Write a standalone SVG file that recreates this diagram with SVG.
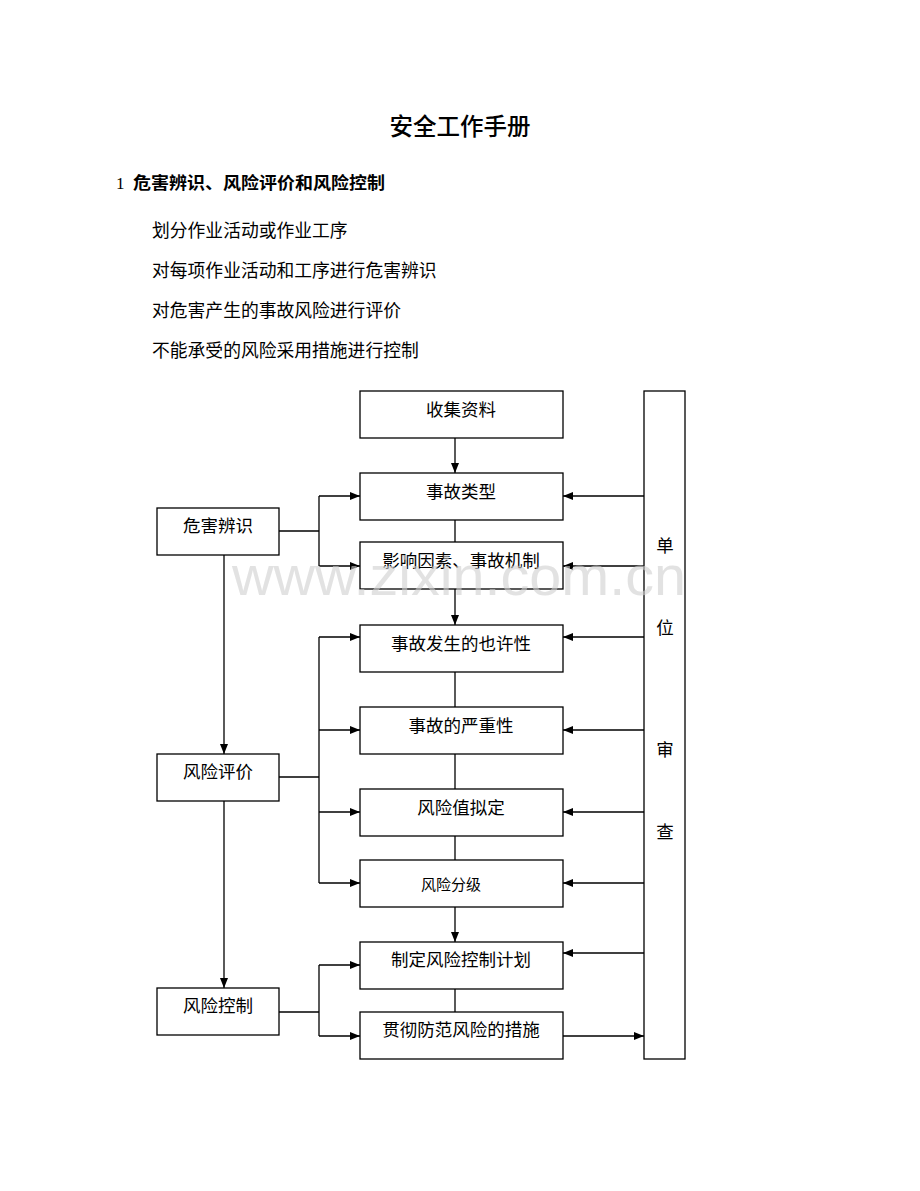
<svg xmlns="http://www.w3.org/2000/svg" width="920" height="1191" viewBox="0 0 920 1191">
<style>
.t{font-family:"Liberation Serif","Noto Sans CJK SC",serif;fill:#000}
.box rect{fill:#fff;stroke:#000;stroke-width:1.3}
.box text{font-family:"Liberation Serif","Noto Sans CJK SC",serif;font-size:17.5px;text-anchor:middle;fill:#000}
.c{fill:none;stroke:#000;stroke-width:1.3}
</style>
<defs>
<marker id="a" viewBox="0 0 10 8" refX="10" refY="4" markerWidth="10" markerHeight="8" markerUnits="userSpaceOnUse" orient="auto">
<path d="M0,0 L10,4 L0,8 Z" fill="#000"/>
</marker>
</defs>
<rect width="920" height="1191" fill="#fff"/>
<text class="t" x="460" y="135" font-size="23.5" text-anchor="middle" font-weight="500">安全工作手册</text>
<text class="t" x="116" y="189" font-size="17">1</text>
<text class="t" x="133" y="189" font-size="17" font-weight="bold" textLength="252" lengthAdjust="spacingAndGlyphs">危害辨识、风险评价和风险控制</text>
<text class="t" x="152" y="237" font-size="17.8">划分作业活动或作业工序</text>
<text class="t" x="152" y="277" font-size="17.8">对每项作业活动和工序进行危害辨识</text>
<text class="t" x="152" y="317" font-size="17.8">对危害产生的事故风险进行评价</text>
<text class="t" x="152" y="357" font-size="17.8">不能承受的风险采用措施进行控制</text>
<g id="connectors">
<path class="c" d="M455,438 V473" marker-end="url(#a)"/>
<path class="c" d="M455,520 V542"/>
<path class="c" d="M455,589 V625" marker-end="url(#a)"/>
<path class="c" d="M455,672 V707"/>
<path class="c" d="M455,754 V789"/>
<path class="c" d="M455,836 V860"/>
<path class="c" d="M455,907 V942" marker-end="url(#a)"/>
<path class="c" d="M455,989 V1012"/>
<path class="c" d="M279,531 H319"/>
<path class="c" d="M319,496 V566"/>
<path class="c" d="M319,496 H360" marker-end="url(#a)"/>
<path class="c" d="M319,566 H360" marker-end="url(#a)"/>
<path class="c" d="M224,555 V754" marker-end="url(#a)"/>
<path class="c" d="M279,777 H319"/>
<path class="c" d="M319,637 V883"/>
<path class="c" d="M319,637 H360" marker-end="url(#a)"/>
<path class="c" d="M319,730 H360" marker-end="url(#a)"/>
<path class="c" d="M319,812 H360" marker-end="url(#a)"/>
<path class="c" d="M319,883 H360" marker-end="url(#a)"/>
<path class="c" d="M224,801 V988" marker-end="url(#a)"/>
<path class="c" d="M279,1012 H319"/>
<path class="c" d="M319,965 V1036"/>
<path class="c" d="M319,965 H360" marker-end="url(#a)"/>
<path class="c" d="M319,1036 H360" marker-end="url(#a)"/>
<path class="c" d="M644,496 H563" marker-end="url(#a)"/>
<path class="c" d="M644,566 H563" marker-end="url(#a)"/>
<path class="c" d="M644,637 H563" marker-end="url(#a)"/>
<path class="c" d="M644,730 H563" marker-end="url(#a)"/>
<path class="c" d="M644,812 H563" marker-end="url(#a)"/>
<path class="c" d="M644,883 H563" marker-end="url(#a)"/>
<path class="c" d="M644,953 H563" marker-end="url(#a)"/>
<path class="c" d="M563,1036 H644" marker-end="url(#a)"/>
</g>
<g id="n1" class="box"><rect x="360" y="391" width="203" height="47"/><text x="461" y="416">收集资料</text></g>
<g id="n2" class="box"><rect x="360" y="473" width="203" height="47"/><text x="461" y="498">事故类型</text></g>
<g id="n3" class="box"><rect x="360" y="542" width="203" height="47"/><text x="461" y="567">影响因素、事故机制</text></g>
<g id="n4" class="box"><rect x="360" y="625" width="203" height="47"/><text x="461" y="650">事故发生的也许性</text></g>
<g id="n5" class="box"><rect x="360" y="707" width="203" height="47"/><text x="461" y="732">事故的严重性</text></g>
<g id="n6" class="box"><rect x="360" y="789" width="203" height="47"/><text x="461" y="814">风险值拟定</text></g>
<g id="n7" class="box"><rect x="360" y="860" width="203" height="47"/><text x="451" y="890" style="font-size:15px">风险分级</text></g>
<g id="n8" class="box"><rect x="360" y="942" width="203" height="47"/><text x="461" y="966">制定风险控制计划</text></g>
<g id="n9" class="box"><rect x="360" y="1012" width="203" height="47"/><text x="461" y="1036">贯彻防范风险的措施</text></g>
<g id="l1" class="box"><rect x="157" y="508" width="122" height="47"/><text x="218" y="532">危害辨识</text></g>
<g id="l2" class="box"><rect x="157" y="754" width="122" height="47"/><text x="218" y="778">风险评价</text></g>
<g id="l3" class="box"><rect x="157" y="988" width="122" height="47"/><text x="218" y="1012">风险控制</text></g>
<g id="review" class="box"><rect x="644" y="391" width="41" height="668"/>
<text x="665" y="552">单</text><text x="665" y="634">位</text><text x="665" y="756">审</text><text x="665" y="838">查</text></g>
<text x="459" y="595" font-family="Liberation Sans,sans-serif" font-size="56" fill="#cfcfcf" fill-opacity="0.6" text-anchor="middle" textLength="454" lengthAdjust="spacingAndGlyphs">www.zixin.com.cn</text>
</svg>
